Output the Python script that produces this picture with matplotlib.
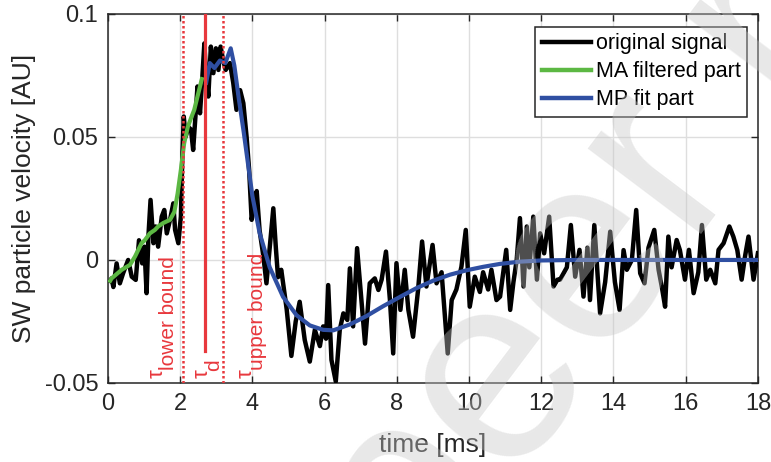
import matplotlib
matplotlib.use('Agg')
import matplotlib.pyplot as plt
import numpy as np

plt.rcParams['font.family'] = ['Liberation Sans', 'DejaVu Sans']
plt.rcParams['axes.unicode_minus'] = False

# original (noisy) signal: time [ms], velocity [AU]
t_orig = [0.06, 0.10, 0.15, 0.24, 0.33, 0.42, 0.56, 0.66, 0.77, 0.86, 0.95, 1.01, 1.07, 1.12,
          1.18, 1.26, 1.32, 1.39, 1.49, 1.56, 1.63, 1.72, 1.81, 1.86, 1.95, 2.02, 2.06, 2.10,
          2.15, 2.23, 2.30, 2.36, 2.43, 2.48, 2.55, 2.61, 2.67, 2.71, 2.78, 2.85, 2.92, 2.99,
          3.06, 3.12, 3.19, 3.26, 3.38, 3.47, 3.56, 3.66, 3.75, 3.84, 3.91, 3.98, 4.05, 4.12,
          4.20, 4.30, 4.39, 4.48, 4.58, 4.65, 4.71, 4.80, 4.95, 5.08, 5.20, 5.31, 5.45, 5.59,
          5.73, 5.87, 5.96, 6.04, 6.10, 6.19, 6.31, 6.42, 6.52, 6.63, 6.70, 6.79, 6.90, 7.02,
          7.12, 7.25, 7.39, 7.49, 7.58, 7.70, 7.81, 7.90, 7.99, 8.10, 8.22, 8.32, 8.45, 8.59,
          8.70, 8.82, 8.99, 9.10, 9.24, 9.41, 9.52, 9.65, 9.79, 9.91, 10.02, 10.16, 10.30, 10.39,
          10.53, 10.62, 10.76, 10.86, 11.03, 11.14, 11.23, 11.32, 11.41, 11.51, 11.60, 11.67,
          11.78, 11.88, 11.97, 12.08, 12.22, 12.34, 12.45, 12.52, 12.71, 12.82, 12.94, 13.06,
          13.17, 13.28, 13.35, 13.47, 13.63, 13.77, 13.91, 14.04, 14.17, 14.28, 14.37, 14.51,
          14.63, 14.74, 14.86, 14.97, 15.13, 15.25, 15.34, 15.43, 15.52, 15.61, 15.75, 15.84,
          15.98, 16.09, 16.22, 16.35, 16.45, 16.57, 16.68, 16.82, 16.91, 17.05, 17.21, 17.32,
          17.43, 17.55, 17.65, 17.74, 17.88, 18.0]
v_orig = [-0.0085, -0.0075, -0.011, -0.0014, -0.0095, -0.0054, 0.0, -0.0068, -0.0081, 0.008,
          -0.0014, 0.0054, -0.0135, 0.0095, 0.0244, 0.0068, 0.0136, 0.0054, 0.0176, 0.0203,
          0.0108, 0.0163, 0.023, 0.0122, 0.0068, 0.0176, 0.042, 0.0583, 0.050, 0.054, 0.053,
          0.0447, 0.0596, 0.0705, 0.0596, 0.0732, 0.088, 0.0772, 0.0664, 0.0867, 0.0759, 0.086,
          0.0772, 0.0867, 0.0813, 0.0772, 0.080, 0.072, 0.061, 0.069, 0.0637, 0.050, 0.0366,
          0.0163, 0.022, 0.028, 0.012, 0.002, -0.0095, 0.005, 0.021, 0.005, -0.007, -0.004,
          -0.020, -0.039, -0.025, -0.017, -0.0325, -0.0413, -0.0284, -0.035, -0.027, -0.032,
          -0.0102, -0.0406, -0.0494, -0.0284, -0.0217, -0.0244, -0.0034, -0.027, 0.0048, -0.0163,
          -0.034, -0.0095, -0.0075, -0.0122, -0.008, 0.0034, -0.0163, -0.038, -0.0013, -0.0203,
          -0.004, -0.0203, -0.0312, -0.012, 0.0075, -0.0108, 0.0061, -0.0095, -0.005, -0.038,
          -0.0163, -0.012, -0.0027, 0.0122, -0.019, -0.0068, -0.013, -0.005, -0.012, -0.004,
          -0.0163, -0.0149, 0.0041, -0.0203, -0.009, 0.0, 0.017, -0.0108, 0.0136, -0.003, 0.0176,
          -0.008, 0.0108, 0.0027, 0.0176, -0.0108, -0.008, -0.008, -0.003, 0.0142, -0.0068,
          0.0041, -0.0149, 0.005, -0.0163, 0.0142, -0.0217, -0.009, 0.0115, -0.009, -0.0203,
          0.004, -0.004, 0.0, 0.0203, -0.0054, -0.0095, 0.005, 0.0122, -0.004, -0.011, -0.019,
          0.0095, -0.003, 0.0081, 0.004, -0.008, 0.0041, -0.0135, -0.005, 0.0142, -0.008, -0.004,
          -0.0095, 0.0041, 0.0068, 0.0136, 0.0095, 0.004, -0.008, 0.002, 0.0095, -0.008, 0.0027]

# moving-average filtered part
t_ma = [0.06, 0.10, 0.38, 0.61, 0.75, 0.93, 1.02, 1.16, 1.30, 1.39, 1.53, 1.72, 1.84, 1.93,
        2.02, 2.11, 2.21, 2.30, 2.39, 2.48, 2.60]
v_ma = [-0.0085, -0.0075, -0.004, -0.002, 0.0014, 0.0068, 0.008, 0.0108, 0.0122, 0.0136, 0.015,
        0.0163, 0.0196, 0.027, 0.0366, 0.0474, 0.054, 0.0576, 0.061, 0.0664, 0.0735]

# MP fit part
t_mp = [2.72, 2.82, 2.95, 3.10, 3.25, 3.40, 3.50, 3.62, 3.76, 3.88, 4.00, 4.20, 4.48, 4.85,
        5.22, 5.59, 5.96, 6.24, 6.70, 7.16, 7.62, 8.09, 8.55, 9.01, 9.47, 9.93, 10.39, 10.86,
        11.40, 12.00, 13.00, 18.00]
v_mp = [0.072, 0.080, 0.078, 0.081, 0.080, 0.086, 0.079, 0.066, 0.052, 0.039, 0.026, 0.011,
        -0.003, -0.015, -0.0224, -0.0266, -0.0284, -0.0286, -0.0262, -0.0228, -0.0188, -0.0150,
        -0.0114, -0.0084, -0.0060, -0.0042, -0.0028, -0.0016, -0.0007, -0.0002, 0.0, 0.0]

tau_lower = 2.07
tau_d = 2.70
tau_upper = 3.20

red = '#E8383D'

fig = plt.figure(figsize=(7.71, 4.62), dpi=100)
ax = fig.add_axes([0.140, 0.171, 0.843, 0.799])

ax.plot(t_orig, v_orig, color='black', lw=3.2, label='original signal', zorder=3)
ax.plot(t_ma, v_ma, color='#5CB843', lw=3.0, label='MA filtered part', zorder=4)
ax.plot(t_mp, v_mp, color='#2F4FA2', lw=3.0, label='MP fit part', zorder=4)

ax.axvline(tau_lower, color=red, lw=1.8, ls=(0, (1, 1)), zorder=5)
ax.axvline(tau_upper, color=red, lw=1.8, ls=(0, (1, 1)), zorder=5)
ax.plot([tau_d, tau_d], [-0.037, 0.1], color=red, lw=2.3, zorder=5)


def tau_label(x, y, sub, dy=6):
    ax.text(x, y, '\u03c4', rotation=90, color=red, fontsize=16, ha='center', va='bottom', zorder=6)
    ax.annotate(sub, (x, y), xytext=(8.5, dy), textcoords='offset points', rotation=90,
                color=red, fontsize=15, ha='center', va='bottom', zorder=6)


tau_label(1.36, -0.0480, 'lower bound')
tau_label(2.60, -0.0478, 'd', dy=5)
tau_label(3.82, -0.0480, 'upper bound')

ax.set_xlim(0, 18)
ax.set_ylim(-0.05, 0.1)
ax.set_xticks(np.arange(0, 19, 2))
ax.set_yticks([-0.05, 0, 0.05, 0.1])
ax.set_yticklabels(['-0.05', '0', '0.05', '0.1'])
ax.grid(True, color='#DEDEDE', lw=1)
ax.set_axisbelow(True)
ax.tick_params(direction='in', length=5, width=1, colors='#262626', labelsize=17,
               top=True, right=True, pad=7)
for s in ax.spines.values():
    s.set_color('#262626')
    s.set_linewidth(1.1)

ax.set_xlabel('time [ms]', fontsize=19, color='#262626', labelpad=13)
ax.set_ylabel('SW particle velocity [AU]', fontsize=19, color='#262626', labelpad=6)

leg = ax.legend(loc='upper right', bbox_to_anchor=(0.983, 0.965), fontsize=15.5,
                frameon=True, fancybox=False, framealpha=1, edgecolor='#262626',
                handlelength=2.3, handletextpad=0.2, borderpad=0.3, labelspacing=0.33,
                borderaxespad=0)
leg.get_frame().set_linewidth(1.1)
for line in leg.get_lines():
    line.set_linewidth(3.2)

# faint review watermark on top of everything
fig.text(0.545, -0.314, 'peer review', rotation=53, rotation_mode='anchor', ha='left',
         va='baseline', fontsize=194, color=(0.78, 0.78, 0.78), alpha=0.4)

fig.savefig('out.png', dpi=100)
